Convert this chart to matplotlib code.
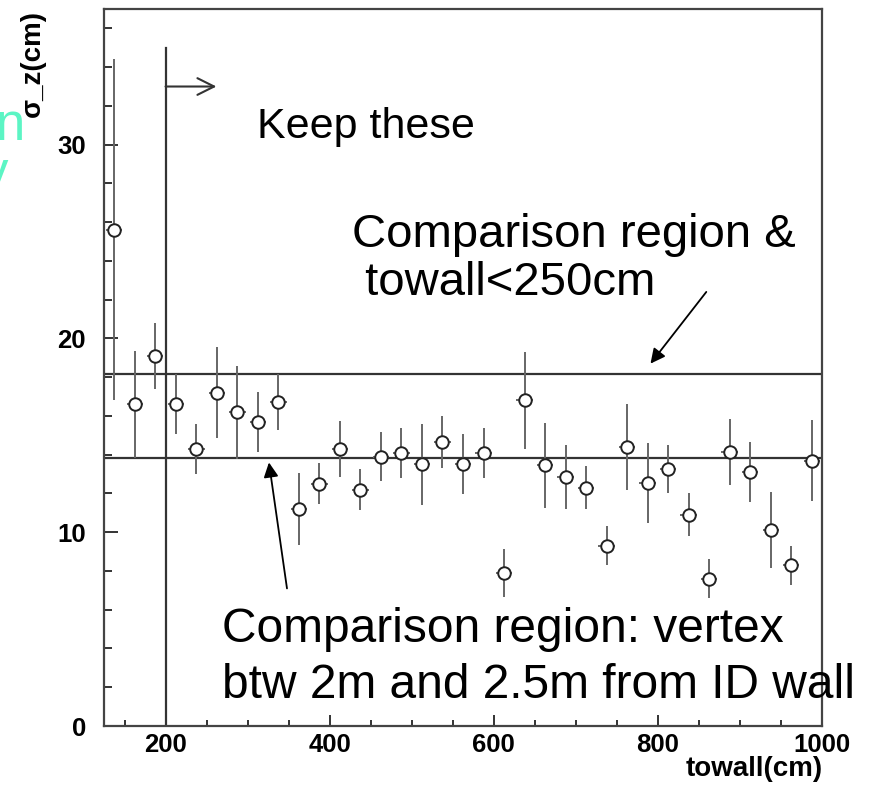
import matplotlib
matplotlib.use('Agg')
import matplotlib.pyplot as plt
from matplotlib.ticker import MultipleLocator

plt.rcParams['font.family'] = ['Liberation Sans', 'DejaVu Sans']

# towall bin centres (cm) and vertex resolution sigma_z (cm)
towall = [137.5, 162.5, 187.5, 212.5, 237.5, 262.5, 287.5, 312.5, 337.5,
          362.5, 387.5, 412.5, 437.5, 462.5, 487.5, 512.5, 537.5, 562.5,
          587.5, 612.5, 637.5, 662.5, 687.5, 712.5, 737.5, 762.5, 787.5,
          812.5, 837.5, 862.5, 887.5, 912.5, 937.5, 962.5, 987.5]
sigma_z = [25.6, 16.6, 19.1, 16.6, 14.3, 17.2, 16.2, 15.7, 16.7,
           11.2, 12.5, 14.3, 12.2, 13.9, 14.1, 13.5, 14.65, 13.5,
           14.1, 7.9, 16.8, 13.45, 12.85, 12.3, 9.3, 14.4, 12.55,
           13.25, 10.9, 7.6, 14.15, 13.1, 10.1, 8.3, 13.7]
sigma_err = [8.8, 2.75, 1.7, 1.55, 1.3, 2.35, 2.4, 1.55, 1.45,
             1.85, 1.05, 1.45, 1.05, 1.25, 1.3, 2.1, 1.35, 1.55,
             1.3, 1.25, 2.5, 2.2, 1.65, 1.1, 1.0, 2.2, 2.05,
             1.25, 1.1, 1.0, 1.7, 1.55, 1.95, 1.0, 2.1]

# cut / comparison levels
towall_cut = 200
cut_top = 35
upper_level = 18.15
lower_level = 13.85

W, H = 873, 789


def fx(px):
    return px / W


def fy(py):
    return 1 - py / H


fig = plt.figure(figsize=(W / 100, H / 100), dpi=100)
ax = fig.add_axes([fx(104), fy(726), fx(822) - fx(104), fy(9) - fy(726)])

ax.errorbar(towall, sigma_z, yerr=sigma_err, xerr=10, fmt='o', ms=9,
            mfc='white', mec='#222222', mew=1.4, ecolor='#666666',
            elinewidth=1.4, capsize=0, zorder=3)

ax.axhline(upper_level, color='#333333', lw=1.6, zorder=2)
ax.axhline(lower_level, color='#333333', lw=1.6, zorder=2)
ax.plot([towall_cut, towall_cut], [0, cut_top], color='#333333', lw=1.6, zorder=2)
ax.annotate('', xy=(262, 33.0), xytext=(towall_cut, 33.0),
            arrowprops=dict(arrowstyle='->', lw=1.5, color='#333333',
                            mutation_scale=30, shrinkA=0, shrinkB=0))

# arrows pointing at the comparison lines
ax.annotate('', xy=(791, 18.7), xytext=(859, 22.4),
            arrowprops=dict(arrowstyle='-|>', lw=1.3, color='black',
                            mutation_scale=22, shrinkA=0, shrinkB=0))
ax.annotate('', xy=(326, 13.6), xytext=(348, 7.1),
            arrowprops=dict(arrowstyle='-|>', lw=1.3, color='black',
                            mutation_scale=22, shrinkA=0, shrinkB=0))

ax.set_xlim(125, 1000)
ax.set_ylim(0, 37)
ax.xaxis.set_major_locator(MultipleLocator(200))
ax.xaxis.set_minor_locator(MultipleLocator(50))
ax.yaxis.set_major_locator(MultipleLocator(10))
ax.yaxis.set_minor_locator(MultipleLocator(2))
ax.tick_params(which='both', direction='in', color='#333333', width=1.4,
               labelsize=18.5)
ax.tick_params(axis='y', which='major', length=10, pad=13)
ax.tick_params(axis='y', which='minor', length=5.8)
ax.tick_params(axis='x', which='major', length=8, pad=5)
ax.tick_params(axis='x', which='minor', length=4.3)
for lab in ax.get_xticklabels() + ax.get_yticklabels():
    lab.set_fontweight('bold')
for s in ax.spines.values():
    s.set_color('#444444')
    s.set_linewidth(1.6)

fig.text(fx(823), fy(776), 'towall(cm)', ha='right', va='baseline',
         fontsize=20, fontweight='bold')
fig.text(fx(33), fy(10), 'σ_z(cm)', rotation=90, ha='center', va='top',
         fontsize=20, fontweight='bold')

# annotations
fig.text(fx(257), fy(138), 'Keep these', fontsize=31, va='baseline')
fig.text(fx(352), fy(247), 'Comparison region &', fontsize=34, va='baseline')
fig.text(fx(352), fy(295), ' towall<250cm', fontsize=34, va='baseline')
fig.text(fx(222), fy(642), 'Comparison region: vertex', fontsize=34.5,
         va='baseline')
fig.text(fx(222), fy(698), 'btw 2m and 2.5m from ID wall', fontsize=34.5,
         va='baseline')

# clipped text at the left edge
fig.text(fx(25), fy(140), 'n', ha='right', va='baseline', fontsize=38,
         color='#5cf5c4')
fig.text(fx(8), fy(188), 'y', ha='right', va='baseline', fontsize=38,
         color='#5cf5c4')

fig.savefig('out.png', dpi=100)
